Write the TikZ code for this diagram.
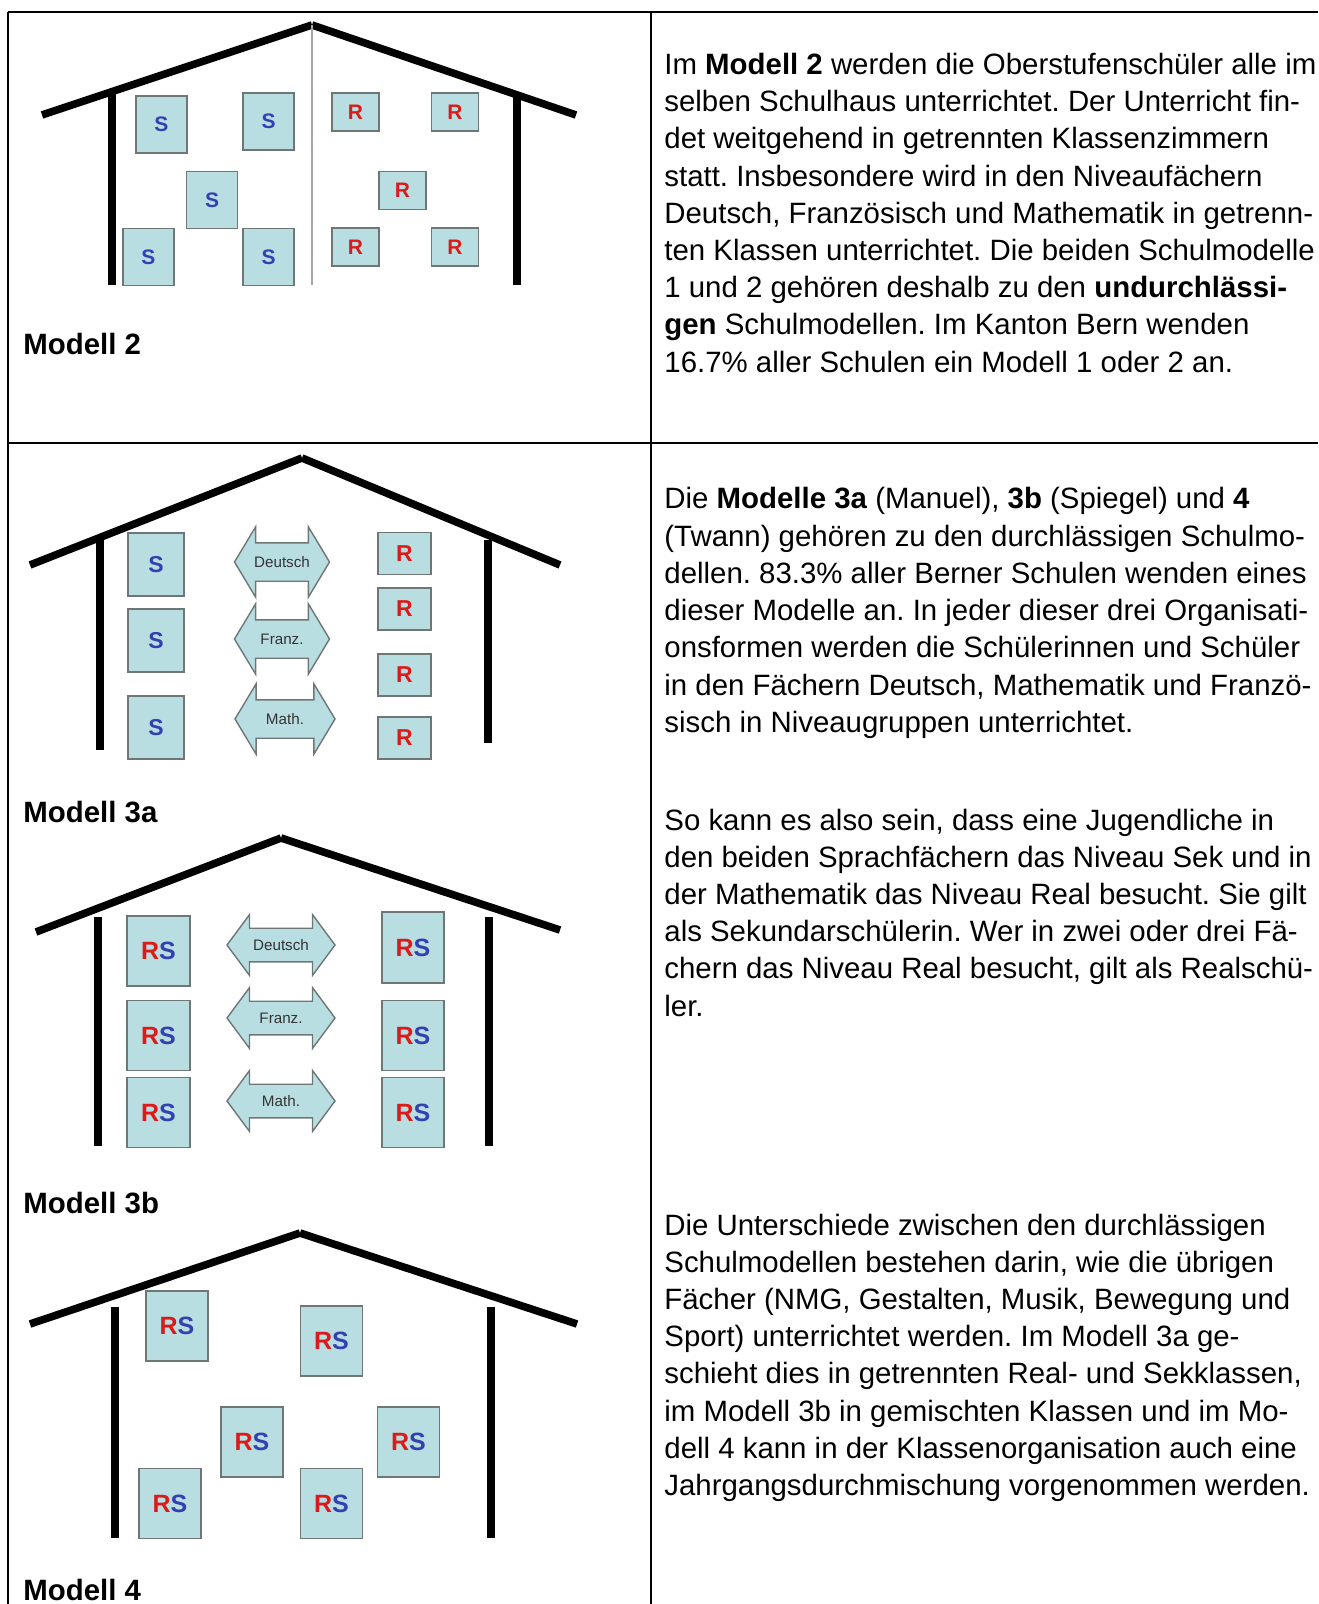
\documentclass[tikz,border=0pt]{standalone}
\usepackage{fontspec}
\setmainfont{Liberation Sans}
\usepackage{xcolor}
\usepackage{tikz}
\usetikzlibrary{shapes.arrows}

\definecolor{boxfill}{HTML}{B9DEE2}
\definecolor{boxline}{HTML}{6E7676}
\definecolor{rred}{HTML}{DC1A1A}
\definecolor{sblue}{HTML}{3540B0}

\newcommand{\RS}{{\color{rred}R}{\color{sblue}S}}
\frenchspacing

\begin{document}
\begin{tikzpicture}[
    x=0.5pt, y=-0.5pt,
    tabline/.style={line width=1.1pt},
    roof/.style={line width=3.8pt},
    wall/.style={line width=4.3pt},
    room/.style={rectangle, draw=boxline, fill=boxfill, line width=0.7pt, inner sep=0pt},
    sroom/.style={room, text=sblue, font=\bfseries\fontsize{10.5}{12}\selectfont},
    rroom/.style={room, text=rred, font=\bfseries\fontsize{10.5}{12}\selectfont},
    rsroom/.style={room, font=\bfseries\fontsize{12.5}{14}\selectfont},
    fach/.style={double arrow, draw=boxline, fill=boxfill, line width=0.7pt, font=\fontsize{7.6}{9}\selectfont, text=black!80, inner xsep=0pt, text height=5.5pt, text depth=0pt},
    fachA/.style={fach, minimum height=47.5pt, inner ysep=6.5pt, double arrow head extend=8pt, double arrow tip angle=118},
    fachB/.style={fach, minimum height=54pt, inner ysep=5.3pt, double arrow head extend=6.8pt, double arrow tip angle=107},
    modell/.style={anchor=base west, inner sep=0pt, font=\bfseries\fontsize{14.7}{18.6}\selectfont},
    body/.style={anchor=base west, inner sep=0pt, font=\fontsize{14.7}{18.6}\selectfont}
    ]
\useasboundingbox (0,0) rectangle (1318,1604);

% table
\draw[tabline] (8,12) -- (1318,12);
\draw[tabline] (8,443) -- (1318,443);
\draw[tabline] (8,12) -- (8,1604);
\draw[tabline] (651,12) -- (651,1604);

% Modell 2
\coordinate (peak2) at (312,25);
\draw[roof] (42,115) -- (peak2);
\draw[roof] (peak2) -- (576,115);
\draw[wall] (112,92) -- (112,285);
\draw[wall] (517,95) -- (517,285);
\draw[gray!70, line width=0.6pt] (peak2) -- (312,285);
\node[sroom, minimum width=25.5pt, minimum height=28.5pt] (s21) at (161.5,124.5) {S};
\node[sroom, minimum width=25.5pt, minimum height=28.5pt] (s22) at (268.5,121.5) {S};
\node[sroom, minimum width=25.5pt, minimum height=28.5pt] (s23) at (212,200) {S};
\node[sroom, minimum width=25.5pt, minimum height=28.5pt] (s24) at (148.5,257) {S};
\node[sroom, minimum width=25.5pt, minimum height=28.5pt] (s25) at (268.5,257) {S};
\node[rroom, minimum width=23.5pt, minimum height=19pt] (r21) at (355.5,112) {R};
\node[rroom, minimum width=23.5pt, minimum height=19pt] (r22) at (455,112) {R};
\node[rroom, minimum width=23.5pt, minimum height=19pt] (r23) at (402.5,190.5) {R};
\node[rroom, minimum width=23.5pt, minimum height=19pt] (r24) at (355.5,247) {R};
\node[rroom, minimum width=23.5pt, minimum height=19pt] (r25) at (455,247) {R};
\node[modell] (m2) at (23,355) {Modell 2};

% Modell 3a
\coordinate (peak3a) at (302,458);
\draw[roof] (30,565) -- (peak3a);
\draw[roof] (peak3a) -- (560,565);
\draw[wall] (100,540) -- (100,750);
\draw[wall] (488,540) -- (488,743);
\node[sroom, font=\bfseries\fontsize{11.5}{13}\selectfont, minimum width=28pt, minimum height=31.5pt] (s31) at (156,564.5) {S};
\node[sroom, font=\bfseries\fontsize{11.5}{13}\selectfont, minimum width=28pt, minimum height=31.5pt] (s32) at (156,640.5) {S};
\node[sroom, font=\bfseries\fontsize{11.5}{13}\selectfont, minimum width=28pt, minimum height=31.5pt] (s33) at (156,727.5) {S};
\node[rroom, font=\bfseries\fontsize{11.5}{13}\selectfont, minimum width=26.5pt, minimum height=21pt] (r31) at (404.5,553.5) {R};
\node[rroom, font=\bfseries\fontsize{11.5}{13}\selectfont, minimum width=26.5pt, minimum height=21pt] (r32) at (404.5,609) {R};
\node[rroom, font=\bfseries\fontsize{11.5}{13}\selectfont, minimum width=26.5pt, minimum height=21pt] (r33) at (404.5,675) {R};
\node[rroom, font=\bfseries\fontsize{11.5}{13}\selectfont, minimum width=26.5pt, minimum height=21pt] (r34) at (404.5,738) {R};
\node[fachA] (d3a) at (282,562) {Deutsch};
\node[fachA] (f3a) at (282,639) {Franz.};
\node[fachA, minimum height=50pt] (m3a) at (285,719) {Math.};
\node[modell] (m3) at (23,822) {Modell 3a};

% Modell 3b
\coordinate (peak3b) at (281,838);
\draw[roof] (36,932) -- (peak3b);
\draw[roof] (peak3b) -- (560,930);
\draw[wall] (98,917) -- (98,1146);
\draw[wall] (489,917) -- (489,1146);
\node[rsroom, minimum width=31.5pt, minimum height=35pt] (b1) at (158.5,951) {\RS};
\node[rsroom, minimum width=31.5pt, minimum height=35pt] (b2) at (158.5,1035.5) {\RS};
\node[rsroom, minimum width=31.5pt, minimum height=35pt] (b3) at (158.5,1112.5) {\RS};
\node[rsroom, minimum width=31pt, minimum height=35.5pt] (b4) at (413,947.5) {\RS};
\node[rsroom, minimum width=31pt, minimum height=35pt] (b5) at (413,1035.5) {\RS};
\node[rsroom, minimum width=31pt, minimum height=35pt] (b6) at (413,1112.5) {\RS};
\node[fachB] (d3b) at (281,945) {Deutsch};
\node[fachB] (f3b) at (281,1018) {Franz.};
\node[fachB] (m3b) at (281,1101) {Math.};
\node[modell] (m3bl) at (23,1213) {Modell 3b};

% Modell 4
\coordinate (peak4) at (300,1233);
\draw[roof] (30,1324) -- (peak4);
\draw[roof] (peak4) -- (577,1324);
\draw[wall] (115,1307) -- (115,1538);
\draw[wall] (491,1307) -- (491,1538);
\node[rsroom, minimum width=31pt, minimum height=35pt] (c1) at (177,1326) {\RS};
\node[rsroom, minimum width=31pt, minimum height=35pt] (c2) at (331.5,1341) {\RS};
\node[rsroom, minimum width=31pt, minimum height=35pt] (c3) at (252,1442) {\RS};
\node[rsroom, minimum width=31pt, minimum height=35pt] (c4) at (408.5,1442) {\RS};
\node[rsroom, minimum width=31pt, minimum height=35pt] (c5) at (170,1503.5) {\RS};
\node[rsroom, minimum width=31pt, minimum height=35pt] (c6) at (331.5,1503.5) {\RS};
\node[modell] (m4) at (23,1600) {Modell 4};

% text column
\node[body] (t1) at (664,74.5) {\parbox[t]{345pt}{\raggedright
Im \textbf{Modell 2} werden die Oberstufenschüler alle im\\
selben Schulhaus unterrichtet. Der Unterricht fin-\\
det weitgehend in getrennten Klassenzimmern\\
statt. Insbesondere wird in den Niveaufächern\\
Deutsch, Französisch und Mathematik in getrenn-\\
ten Klassen unterrichtet. Die beiden Schulmodelle\\
1 und 2 gehören deshalb zu den \textbf{undurchlässi-}\\
\textbf{gen} Schulmodellen. Im Kanton Bern wenden\\
16.7\% aller Schulen ein Modell 1 oder 2 an.}};
\node[body] (t2) at (664,509) {\parbox[t]{345pt}{\raggedright
Die \textbf{Modelle 3a} (Manuel), \textbf{3b} (Spiegel) und \textbf{4}\\
(Twann) gehören zu den durchlässigen Schulmo-\\
dellen. 83.3\% aller Berner Schulen wenden eines\\
dieser Modelle an. In jeder dieser drei Organisati-\\
onsformen werden die Schülerinnen und Schüler\\
in den Fächern Deutsch, Mathematik und Franzö-\\
sisch in Niveaugruppen unterrichtet.}};
\node[body] (t3) at (664,830) {\parbox[t]{345pt}{\raggedright
So kann es also sein, dass eine Jugendliche in\\
den beiden Sprachfächern das Niveau Sek und in\\
der Mathematik das Niveau Real besucht. Sie gilt\\
als Sekundarschülerin. Wer in zwei oder drei Fä-\\
chern das Niveau Real besucht, gilt als Realschü-\\
ler.}};
\node[body] (t4) at (664,1235) {\parbox[t]{345pt}{\raggedright
Die Unterschiede zwischen den durchlässigen\\
Schulmodellen bestehen darin, wie die übrigen\\
Fächer (NMG, Gestalten, Musik, Bewegung und\\
Sport) unterrichtet werden. Im Modell 3a ge-\\
schieht dies in getrennten Real- und Sekklassen,\\
im Modell 3b in gemischten Klassen und im Mo-\\
dell 4 kann in der Klassenorganisation auch eine\\
Jahrgangsdurchmischung vorgenommen werden.}};
\end{tikzpicture}
\end{document}
